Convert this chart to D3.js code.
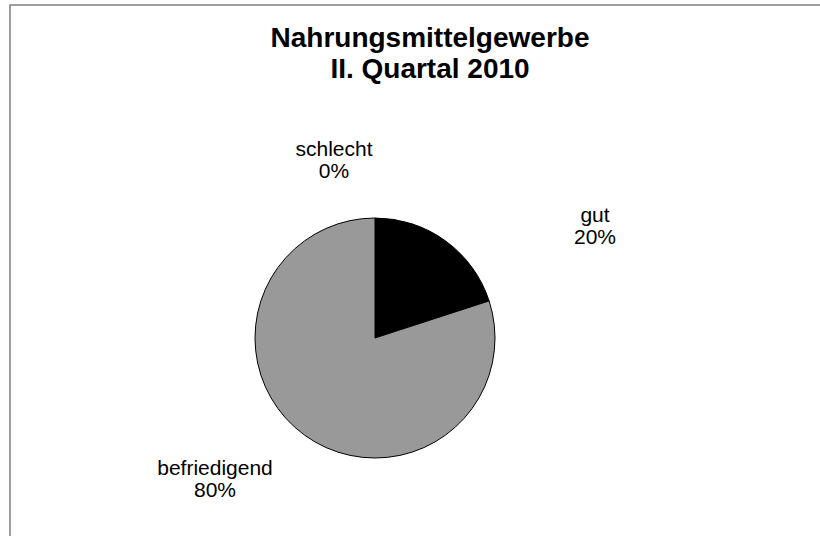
<!DOCTYPE html>
<html><head><meta charset="utf-8">
<script src="https://cdn.jsdelivr.net/npm/d3@7"></script>
<style>body{margin:0;background:#fff;}svg{display:block;}text{font-family:"Liberation Sans",Arial,sans-serif;}</style>
</head><body>
<svg id="c" width="820" height="536"></svg>
<script>
const categories = ["gut", "befriedigend", "schlecht"];
const values = [20, 80, 0];
const labels = ["20%", "80%", "0%"];
const colors = ["#000000", "#999999", "#ffffff"];
const titleLines = ["Nahrungsmittelgewerbe", "II. Quartal 2010"];

const svg = d3.select("#c");
svg.append("rect").attr("x",10).attr("y",5).attr("width",840).attr("height",560)
  .attr("fill","#fff").attr("stroke","#808080").attr("stroke-width",1.5);

const t = svg.append("text").attr("text-anchor","middle").attr("font-weight","bold").attr("font-size",28);
titleLines.forEach((l,i)=>t.append("tspan").attr("x",430).attr("y",47+i*31).text(l));

const cx = 375, cy = 338, r = 120;
const data = categories.map((c,i)=>({c, v: values[i], l: labels[i], col: colors[i]}));
const pie = d3.pie().value(d=>d.v).sort(null);
const arcs = pie(data);
const arc = d3.arc().innerRadius(0).outerRadius(r);
const g = svg.append("g").attr("transform",`translate(${cx},${cy})`);
g.selectAll("path").data(arcs.filter(a=>a.data.v>0)).join("path")
  .attr("d",arc).attr("fill",d=>d.data.col).attr("stroke","#000").attr("stroke-width",1);

const labelPos = {"gut":[595,222], "befriedigend":[215,475], "schlecht":[334,156]};
arcs.forEach(a=>{
  const p = labelPos[a.data.c];
  const tx = svg.append("text").attr("text-anchor","middle").attr("font-size",21).attr("fill","#000");
  tx.append("tspan").attr("x",p[0]).attr("y",p[1]).text(a.data.c);
  tx.append("tspan").attr("x",p[0]).attr("y",p[1]+22).text(a.data.l);
});
</script>
</body></html>
